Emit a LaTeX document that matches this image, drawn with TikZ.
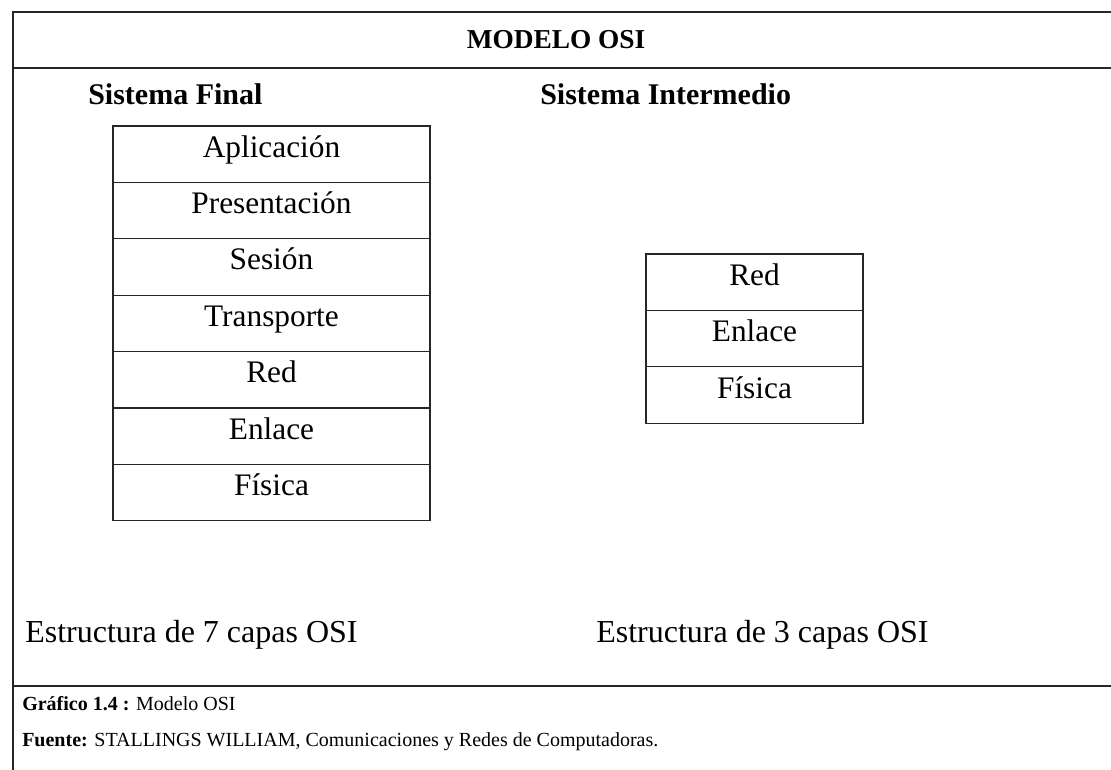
\documentclass[tikz,border=0pt]{standalone}
\usepackage{fontspec}
\setmainfont{Liberation Serif}
\usetikzlibrary{positioning}
\tikzset{frameLine/.style={line width=1pt, draw=black!85!white}}
\tikzset{osiLayer/.style={draw=black!85!white, line width=0.9pt, minimum height=42.3pt, inner sep=0pt, outer sep=0pt, text height=15.5pt, text depth=11pt, font=\fontsize{23.5}{27}\selectfont}}
\tikzset{endLayer/.style={osiLayer, minimum width=237.75pt}}
\tikzset{midLayer/.style={osiLayer, minimum width=162.75pt}}
\tikzset{heading/.style={font=\bfseries\fontsize{22.5}{26}\selectfont, anchor=base west, inner sep=0pt}}
\tikzset{caption/.style={font=\fontsize{24}{28}\selectfont, anchor=base west, inner sep=0pt}}
\tikzset{source/.style={font=\fontsize{15}{18}\selectfont, anchor=base west, inner sep=0pt}}

\begin{document}
\begin{tikzpicture}[x=0.75pt,y=-0.75pt]
\useasboundingbox (0,0) rectangle (1111,770);

% frame
\draw[frameLine] (1111,12) -- (13,12) -- (13,770);
\draw[frameLine] (13,68) -- (1111,68);
\draw[frameLine] (13,686) -- (1111,686);

\node[font=\bfseries\fontsize{20.5}{24}\selectfont, anchor=base, inner sep=0pt] (title) at (556,49) {MODELO OSI};
\node[heading] (finalHead) at (88,105) {Sistema Final};
\node[heading] (interHead) at (540,105) {Sistema Intermedio};

% end system, 7 layers
\node[endLayer, anchor=north] (aplicacion) at (271.5,126) {Aplicación};
\node[endLayer, below=0pt of aplicacion] (presentacion) {Presentación};
\node[endLayer, below=0pt of presentacion] (sesion) {Sesión};
\node[endLayer, below=0pt of sesion] (transporte) {Transporte};
\node[endLayer, below=0pt of transporte] (red) {Red};
\node[endLayer, below=0pt of red] (enlace) {Enlace};
\node[endLayer, below=0pt of enlace] (fisica) {Física};

% intermediate system, 3 layers
\node[midLayer, anchor=north] (redI) at (754.5,254) {Red};
\node[midLayer, below=0pt of redI] (enlaceI) {Enlace};
\node[midLayer, below=0pt of enlaceI] (fisicaI) {Física};

\node[caption] (capFinal) at (25,642) {Estructura de 7 capas OSI};
\node[caption] (capInter) at (596,642) {Estructura de 3 capas OSI};

%% footer
\node[source] (grafico) at (22,710) {\textbf{Gráfico 1.4 :} Modelo OSI};
\node[source] (fuente) at (22,746) {\textbf{Fuente:} STALLINGS WILLIAM, Comunicaciones y Redes de Computadoras.};
\end{tikzpicture}
\end{document}
